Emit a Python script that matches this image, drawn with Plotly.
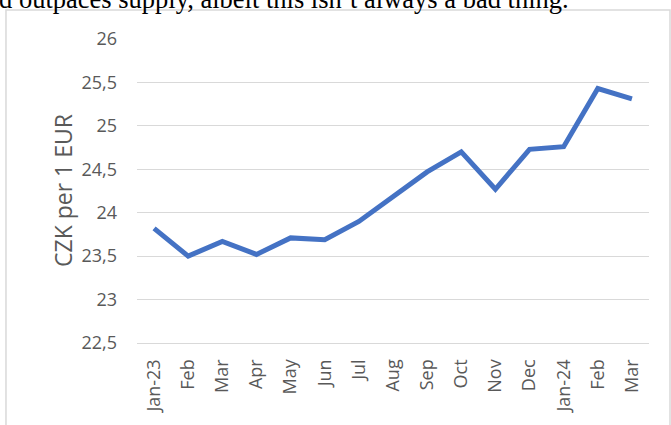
import plotly.graph_objects as go

# CZK/EUR monthly averages, Jan 2023 - Mar 2024
months = ["Jan-23", "Feb", "Mar", "Apr", "May", "Jun", "Jul", "Aug",
          "Sep", "Oct", "Nov", "Dec", "Jan-24", "Feb", "Mar"]
czk_per_eur = [23.82, 23.50, 23.67, 23.52, 23.71, 23.69, 23.90, 24.18,
               24.47, 24.70, 24.27, 24.73, 24.76, 25.43, 25.31]
y_ticks = [22.5, 23, 23.5, 24, 24.5, 25, 25.5, 26]

GREY = "#595959"
GRID = "#D9D9D9"

# categories are indexed so repeated month names stay separate points
x_idx = list(range(len(months)))

fig = go.Figure(go.Scatter(
    x=x_idx, y=czk_per_eur, mode="lines",
    line=dict(color="#4472C4", width=5),
    hoverinfo="skip",
))

fig.update_layout(
    width=671, height=425,
    margin=dict(l=137, r=22, t=39, b=82),
    paper_bgcolor="white", plot_bgcolor="white",
    separators=", ",
    showlegend=False,
    font=dict(family="Open Sans, sans-serif", color=GREY),
)

fig.update_xaxes(
    range=[-0.5, len(months) - 0.5],
    tickmode="array", tickvals=x_idx, ticktext=months,
    tickangle=-90, tickfont=dict(size=18, color=GREY),
    showgrid=False, zeroline=False,
    showline=True, linecolor=GRID, linewidth=1.3,
    ticks="", ticklabelstandoff=8,
)
fig.update_yaxes(
    range=[22.5, 26], tickvals=y_ticks,
    tickfont=dict(size=18, color=GREY),
    showgrid=True, gridcolor=GRID, gridwidth=1.3,
    zeroline=False, showline=False, ticks="",
    ticklabelstandoff=19,
)

# y axis title
fig.add_annotation(
    text="CZK per 1 EUR", textangle=-90,
    x=-0.1445, y=0.5, xref="paper", yref="paper",
    xanchor="center", yanchor="middle",
    showarrow=False, font=dict(size=23, color=GREY),
)

# document text cut off above the chart
fig.add_annotation(
    text="d outpaces supply, albeit this isn\u2019t always a bad thing.",
    x=-0.2735, y=1.0766, xref="paper", yref="paper",
    xanchor="left", yanchor="bottom", showarrow=False,
    font=dict(family="Liberation Serif, serif", size=26.5, color="black"),
)

# chart area border
fig.add_shape(
    type="rect", xref="paper", yref="paper",
    x0=-0.2559, x1=1.041, y0=-0.5, y1=1.0954,
    line=dict(color=GRID, width=1.5), layer="below",
)

# drop the default page margin so the figure sits at the window's corner
fig.write_html("out.html", config={"displayModeBar": False},
               post_script="document.body.style.margin='0';")
